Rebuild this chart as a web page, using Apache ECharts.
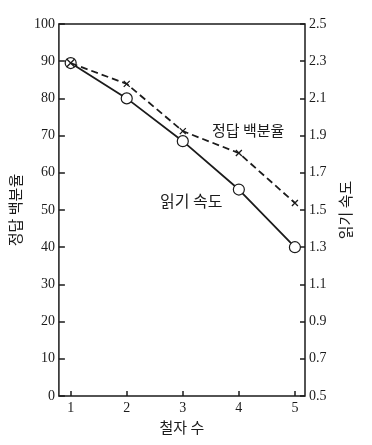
<!DOCTYPE html>
<html><head><meta charset="utf-8">
<script src="https://cdn.jsdelivr.net/npm/echarts@6/dist/echarts.min.js"></script>
<style>html,body{margin:0;padding:0;background:#fff}#c{width:372px;height:445px}</style>
</head><body><div id="c"></div>
<script>
const letterCounts = [1, 2, 3, 4, 5];
const percentCorrect = [89.5, 83.9, 71.2, 65.3, 51.9];
const readingSpeed = [2.29, 2.10, 1.87, 1.61, 1.30];
const leftTicks = [0, 10, 20, 30, 40, 50, 60, 70, 80, 90, 100];
const rightTicks = [0.5, 0.7, 0.9, 1.1, 1.3, 1.5, 1.7, 1.9, 2.1, 2.3, 2.5];

const serif = '"Liberation Serif","DejaVu Serif",serif';
const kr = '"Noto Sans CJK KR","Noto Sans",sans-serif';
const ink = '#1b1b1b';
const crossPath = 'path://M0,0 L10,10 M10,0 L0,10';

const chart = echarts.init(document.getElementById('c'), null, {renderer: 'canvas'});
chart.setOption({
  animation: false,
  backgroundColor: '#fff',
  grid: {left: 57, right: 67, top: 24, bottom: 49, show: true, borderColor: ink, borderWidth: 1.5, backgroundColor: 'transparent'},
  xAxis: {
    type: 'value', min: 0.79, max: 5.18,
    interval: 1,
    axisLine: {show: false},
    axisTick: {show: true, inside: true, length: 5, lineStyle: {color: ink, width: 1.5}, customValues: letterCounts},
    axisLabel: {color: ink, fontFamily: serif, fontSize: 14, margin: 5, customValues: letterCounts, formatter: v => String(v)},
    splitLine: {show: false},
    name: '철자 수', nameLocation: 'middle', nameGap: 22,
    nameTextStyle: {color: ink, fontFamily: kr, fontSize: 15}
  },
  yAxis: [{
    type: 'value', min: 0, max: 100, interval: 10,
    axisLine: {show: false},
    axisTick: {show: true, inside: true, length: 6, lineStyle: {color: ink, width: 1.5}},
    axisLabel: {color: ink, fontFamily: serif, fontSize: 14, margin: 4, formatter: v => leftTicks.includes(v) ? String(v) : ''},
    splitLine: {show: false},
    name: '정답 백분율', nameLocation: 'middle', nameGap: 33, nameRotate: 90,
    nameTextStyle: {color: ink, fontFamily: kr, fontSize: 15}
  }, {
    type: 'value', min: 0.5, max: 2.5, interval: 0.2, position: 'right',
    axisLine: {show: false},
    axisTick: {show: true, inside: true, length: 5, lineStyle: {color: ink, width: 1.5}},
    axisLabel: {color: ink, fontFamily: serif, fontSize: 14, margin: 4, formatter: v => {
      const r = Math.round(v * 10) / 10; return rightTicks.includes(r) ? r.toFixed(1) : ''; }},
    splitLine: {show: false},
    name: '읽기 속도', nameLocation: 'middle', nameGap: 33, nameRotate: 90,
    nameTextStyle: {color: ink, fontFamily: kr, fontSize: 15}
  }],
  series: [{
    name: '읽기 속도', type: 'line', yAxisIndex: 1,
    data: letterCounts.map((x, i) => [x, readingSpeed[i]]),
    symbol: 'circle', symbolSize: 11, showAllSymbol: true,
    lineStyle: {color: ink, width: 1.8},
    itemStyle: {color: '#fff', borderColor: ink, borderWidth: 1.2},
    z: 2
  }, {
    name: '정답 백분율', type: 'line', yAxisIndex: 0,
    data: letterCounts.map((x, i) => [x, percentCorrect[i]]),
    symbol: crossPath, symbolSize: (v, p) => p.dataIndex === 0 ? 8 : 6, showAllSymbol: true,
    lineStyle: {color: ink, width: 1.8, type: [7, 4]},
    itemStyle: {color: 'transparent', borderColor: ink, borderWidth: 1.3},
    z: 3
  }],
  graphic: [
    {type: 'text', left: 212, top: 123, style: {text: '정답 백분율', fill: ink, font: '15px ' + kr}},
    {type: 'text', left: 160, top: 193, style: {text: '읽기 속도', fill: ink, font: '16px ' + kr}}
  ]
});
</script></body></html>
